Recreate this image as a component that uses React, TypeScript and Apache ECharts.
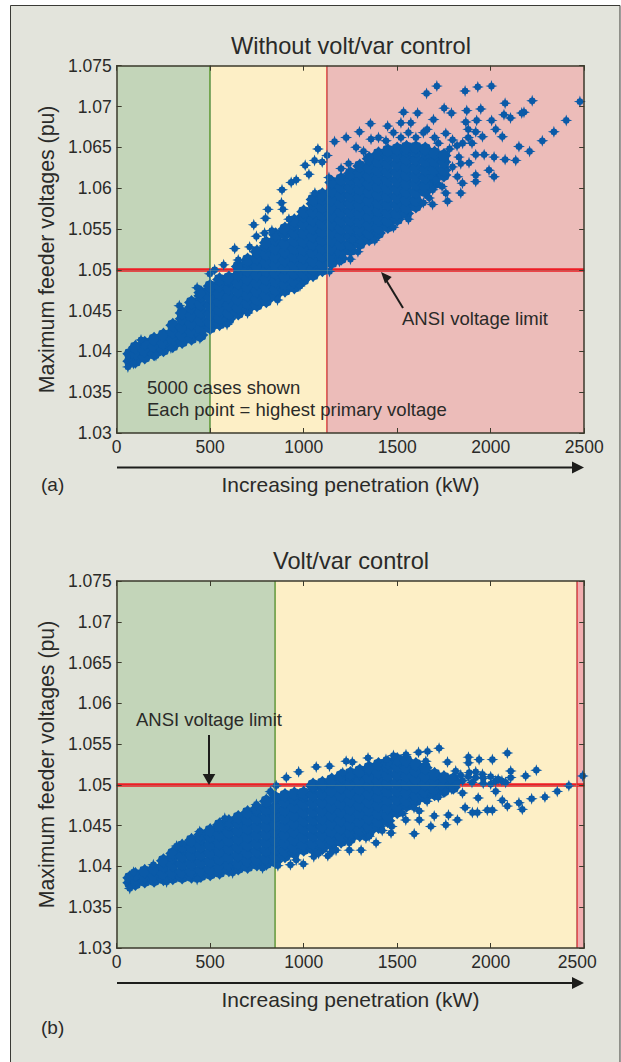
import React, { useEffect, useRef } from "react";
import * as echarts from "echarts";

const titles = ["Without volt/var control", "Volt/var control"];
const xName = "Increasing penetration (kW)";
const yName = "Maximum feeder voltages (pu)";
const limit = 1.05;
const zonesA = [0, 500, 1125, 2500];
const zonesB = [0, 845, 2460, 2500];

const cloudA: [number, number[]][] = [
  [70, [1.0388, 1.0397]],
  [100, [1.0388, 1.0397, 1.0405]],
  [150, [1.0393, 1.0401, 1.041]],
  [200, [1.0397, 1.0406, 1.0415]],
  [250, [1.0402, 1.041, 1.042]],
  [300, [1.0407, 1.0415, 1.0424, 1.0432]],
  [350, [1.0412, 1.042, 1.043, 1.044, 1.0447]],
  [400, [1.0416, 1.0424, 1.0434, 1.0444, 1.0454, 1.046]],
  [450, [1.042, 1.0428, 1.0438, 1.0448, 1.0458, 1.0468, 1.0472]],
  [500, [1.0429, 1.0436, 1.0446, 1.0456, 1.0466, 1.0476, 1.048]],
  [550, [1.0434, 1.0441, 1.0451, 1.0461, 1.0471, 1.0481, 1.0488]],
  [600, [1.044, 1.0447, 1.0457, 1.0467, 1.0477, 1.0487, 1.049]],
  [650, [1.0447, 1.0454, 1.0464, 1.0474, 1.0484, 1.0494, 1.0504]],
  [700, [1.0452, 1.0459, 1.0469, 1.0479, 1.0489, 1.0499, 1.0509, 1.0512]],
  [750, [1.0457, 1.0464, 1.0474, 1.0484, 1.0494, 1.0504, 1.0514, 1.0522]],
  [800, [1.0462, 1.0469, 1.0479, 1.0489, 1.0499, 1.0509, 1.0519, 1.0529, 1.0533]],
  [850, [1.0469, 1.0476, 1.0486, 1.0496, 1.0506, 1.0516, 1.0526, 1.0537, 1.0543]],
  [900, [1.0475, 1.0482, 1.0492, 1.0502, 1.0512, 1.0522, 1.0532, 1.0544, 1.055]],
  [950, [1.0479, 1.0486, 1.0496, 1.0506, 1.0516, 1.0526, 1.0536, 1.0546, 1.0556, 1.056]],
  [1000, [1.0488, 1.0495, 1.0505, 1.0515, 1.0525, 1.0535, 1.0545, 1.0556, 1.0566, 1.0571]],
  [1050, [1.0494, 1.0501, 1.0511, 1.0521, 1.0531, 1.0541, 1.0551, 1.0561, 1.0571, 1.0581, 1.0586]],
  [1100, [1.05, 1.0507, 1.0517, 1.0527, 1.0537, 1.0547, 1.0557, 1.0567, 1.0577, 1.0587, 1.0592]],
  [1150, [1.0509, 1.0516, 1.0526, 1.0536, 1.0546, 1.0556, 1.0566, 1.0576, 1.0586, 1.0596, 1.0607]],
  [1200, [1.0514, 1.0521, 1.0531, 1.0541, 1.0551, 1.0561, 1.0571, 1.0581, 1.0591, 1.0601, 1.0611]],
  [1250, [1.0524, 1.0531, 1.0541, 1.0551, 1.0561, 1.0571, 1.0581, 1.0591, 1.0601, 1.0611, 1.0618]],
  [1300, [1.0532, 1.0539, 1.0549, 1.0559, 1.0569, 1.0579, 1.0589, 1.0599, 1.0609, 1.0619, 1.0627]],
  [1350, [1.0538, 1.0545, 1.0555, 1.0565, 1.0575, 1.0585, 1.0595, 1.0605, 1.0615, 1.0625, 1.0636]],
  [1400, [1.0545, 1.0552, 1.0562, 1.0572, 1.0582, 1.0592, 1.0602, 1.0612, 1.0622, 1.0632, 1.0642]],
  [1450, [1.0553, 1.056, 1.057, 1.058, 1.059, 1.06, 1.061, 1.062, 1.063, 1.064, 1.0646]],
  [1500, [1.0562, 1.0569, 1.0579, 1.0589, 1.0599, 1.0609, 1.0619, 1.0629, 1.0639, 1.0648]],
  [1550, [1.0569, 1.0576, 1.0586, 1.0596, 1.0606, 1.0616, 1.0626, 1.0636, 1.0646, 1.065]],
  [1600, [1.0578, 1.0585, 1.0595, 1.0605, 1.0615, 1.0625, 1.0635, 1.0645, 1.065]],
  [1650, [1.0596, 1.0603, 1.0613, 1.0623, 1.0633, 1.0643, 1.0648]],
  [1700, [1.0606, 1.0613, 1.0623, 1.0633, 1.0643]],
  [1750, [1.0616, 1.0622, 1.0632, 1.064]],
];

const outliersA: [number, number][] = [
  [1712, 1.0725], [1657, 1.0716], [1863, 1.0719], [1931, 1.0724], [2004, 1.0725], [2077, 1.0704],
  [2222, 1.0707], [2477, 1.0706], [2178, 1.0693], [2166, 1.0692], [2404, 1.0683], [2338, 1.0669],
  [2276, 1.0658], [2208, 1.0645], [2151, 1.0651], [2134, 1.0634], [2077, 1.0635], [2018, 1.0638],
  [2106, 1.0686], [2071, 1.069], [1947, 1.0697], [1872, 1.0695], [1790, 1.0692], [1751, 1.0698],
  [2005, 1.0683], [1925, 1.0683], [1867, 1.0681], [1694, 1.0684], [1609, 1.0692], [1534, 1.0693],
  [1520, 1.068], [1357, 1.0679], [1449, 1.0676], [1573, 1.068], [2062, 1.0663], [2027, 1.0672],
  [1956, 1.0663], [1920, 1.0669], [1227, 1.0662], [1165, 1.0657], [1298, 1.0669], [1280, 1.065],
  [1076, 1.0648], [1125, 1.064], [1058, 1.0634], [1099, 1.0632], [1008, 1.0628], [1028, 1.0617],
  [960, 1.061], [933, 1.0607], [884, 1.0598], [881, 1.0582], [809, 1.0574], [796, 1.0563],
  [733, 1.0555], [889, 1.0574], [921, 1.0562], [791, 1.0545], [747, 1.0541], [631, 1.0526],
  [711, 1.0528], [572, 1.0506], [524, 1.05], [498, 1.0495], [1200, 1.0624], [2018, 1.0614],
  [1991, 1.0622], [1920, 1.0616], [1920, 1.0608], [1840, 1.0594], [1849, 1.0606], [1822, 1.0614],
  [1769, 1.0584], [1760, 1.0594], [1689, 1.058], [1671, 1.0588], [1965, 1.0641], [1920, 1.0641],
  [1884, 1.0631], [1840, 1.063], [1796, 1.0626], [1796, 1.0659], [1760, 1.0667], [1850, 1.0655],
  [1880, 1.0662], [1400, 1.0662], [1480, 1.0668], [1560, 1.0668], [1640, 1.0668], [1700, 1.0662],
  [1360, 1.066], [1138, 1.0498], [1191, 1.051], [1262, 1.0537], [1707, 1.061], [1740, 1.0602],
  [1880, 1.0672], [1900, 1.0655], [1820, 1.0652], [1780, 1.0648], [1830, 1.0638], [1720, 1.0655],
  [1660, 1.0672], [1600, 1.0662], [1520, 1.0662], [1440, 1.0658], [1320, 1.0645], [1240, 1.063],
  [1690, 1.0598], [1640, 1.0582], [1560, 1.0562], [1480, 1.0552], [1380, 1.0536], [1290, 1.0522],
  [1250, 1.0513], [980, 1.048], [860, 1.0463], [700, 1.0447], [590, 1.0433], [445, 1.0416],
  [290, 1.0404], [210, 1.0395], [60, 1.0381], [90, 1.0385], [130, 1.0414], [335, 1.0456],
  [430, 1.0478], [650, 1.0512], [830, 1.0548], [1060, 1.0594], [1135, 1.0613],
];

const cloudB: [number, number[]][] = [
  [70, [1.038, 1.0386]],
  [100, [1.0379, 1.0385, 1.039]],
  [150, [1.0382, 1.0388, 1.0394]],
  [200, [1.0383, 1.0389, 1.0397]],
  [250, [1.0385, 1.0391, 1.0401, 1.0407]],
  [300, [1.0386, 1.0392, 1.0402, 1.0412, 1.0416]],
  [350, [1.0387, 1.0393, 1.0403, 1.0413, 1.0423, 1.0425]],
  [400, [1.0388, 1.0394, 1.0404, 1.0414, 1.0424, 1.0432]],
  [450, [1.0389, 1.0395, 1.0405, 1.0415, 1.0425, 1.0435, 1.0439]],
  [500, [1.0391, 1.0397, 1.0407, 1.0417, 1.0427, 1.0437, 1.0444]],
  [550, [1.0393, 1.0399, 1.0409, 1.0419, 1.0429, 1.0439, 1.0449, 1.0451]],
  [600, [1.0396, 1.0402, 1.0412, 1.0422, 1.0432, 1.0442, 1.0452, 1.0455]],
  [650, [1.0398, 1.0404, 1.0414, 1.0424, 1.0434, 1.0444, 1.0454, 1.046]],
  [700, [1.04, 1.0407, 1.0417, 1.0427, 1.0437, 1.0447, 1.0457, 1.0466]],
  [750, [1.0403, 1.0409, 1.0419, 1.0429, 1.0439, 1.0449, 1.0459, 1.0469, 1.0471]],
  [800, [1.0404, 1.041, 1.042, 1.043, 1.044, 1.045, 1.046, 1.047, 1.048]],
  [850, [1.0406, 1.0412, 1.0422, 1.0432, 1.0442, 1.0452, 1.0462, 1.0472, 1.0484]],
  [900, [1.0413, 1.0419, 1.0429, 1.0439, 1.0449, 1.0459, 1.0469, 1.0479, 1.0487]],
  [950, [1.0417, 1.0423, 1.0433, 1.0443, 1.0453, 1.0463, 1.0473, 1.0483, 1.0489]],
  [1000, [1.0421, 1.0427, 1.0437, 1.0447, 1.0457, 1.0467, 1.0477, 1.0487, 1.049]],
  [1050, [1.0422, 1.0428, 1.0438, 1.0448, 1.0458, 1.0468, 1.0478, 1.0488, 1.0498, 1.05]],
  [1100, [1.0423, 1.0429, 1.0439, 1.0449, 1.0459, 1.0469, 1.0479, 1.0489, 1.0499, 1.0502]],
  [1150, [1.0427, 1.0433, 1.0443, 1.0453, 1.0463, 1.0473, 1.0483, 1.0493, 1.0503, 1.0506]],
  [1200, [1.0431, 1.0437, 1.0447, 1.0457, 1.0467, 1.0477, 1.0487, 1.0497, 1.0507, 1.0511]],
  [1250, [1.0435, 1.0441, 1.0451, 1.0461, 1.0471, 1.0481, 1.0491, 1.0501, 1.0511, 1.0514]],
  [1300, [1.0439, 1.0445, 1.0455, 1.0465, 1.0475, 1.0485, 1.0495, 1.0505, 1.0515, 1.0517]],
  [1350, [1.0443, 1.0449, 1.0459, 1.0469, 1.0479, 1.0489, 1.0499, 1.0509, 1.0519, 1.0521]],
  [1400, [1.0449, 1.0455, 1.0465, 1.0475, 1.0485, 1.0495, 1.0505, 1.0515, 1.0525]],
  [1450, [1.0456, 1.0462, 1.0472, 1.0482, 1.0492, 1.0502, 1.0512, 1.0522, 1.0527]],
  [1500, [1.0467, 1.0473, 1.0483, 1.0493, 1.0503, 1.0513, 1.0523, 1.0531]],
  [1550, [1.0475, 1.0481, 1.0491, 1.0501, 1.0511, 1.0521, 1.053]],
  [1600, [1.0481, 1.0487, 1.0497, 1.0507, 1.0517, 1.0525]],
  [1650, [1.0485, 1.0491, 1.0501, 1.0511, 1.0521]],
  [1700, [1.0489, 1.0495, 1.0505, 1.0513]],
  [1750, [1.0493, 1.0499, 1.0509]],
  [1800, [1.0497, 1.0503, 1.0507]],
];

const outliersB: [number, number][] = [
  [1724, 1.0545], [1662, 1.0541], [1614, 1.054], [2089, 1.0539], [1881, 1.0534], [1881, 1.0527],
  [1938, 1.0531], [2009, 1.0531], [1769, 1.0528], [1653, 1.0529], [1344, 1.0533], [1260, 1.0528],
  [1227, 1.0529], [1138, 1.0523], [1067, 1.0522], [973, 1.0516], [907, 1.0509], [853, 1.0499],
  [822, 1.0492], [2244, 1.0518], [2187, 1.0511], [2107, 1.0517], [2107, 1.0509], [2027, 1.0505],
  [1956, 1.0513], [1885, 1.0515], [1813, 1.0517], [1920, 1.0509], [2418, 1.0499], [2356, 1.0492],
  [2290, 1.0485], [2219, 1.0483], [2169, 1.047], [2151, 1.0478], [2089, 1.0474], [2062, 1.0481],
  [2027, 1.0492], [1933, 1.0484], [2009, 1.0469], [1982, 1.0469], [1929, 1.0466], [1902, 1.0466],
  [1863, 1.0472], [1849, 1.049], [1822, 1.0457], [1774, 1.0463], [1760, 1.0451], [1698, 1.0462],
  [1680, 1.0449], [1618, 1.0468], [1618, 1.0457], [1591, 1.044], [1546, 1.0457], [1471, 1.0449],
  [1467, 1.0441], [1387, 1.0429], [1307, 1.042], [1244, 1.042], [1244, 1.0429], [1333, 1.0435],
  [1173, 1.042], [1129, 1.0413], [1054, 1.0412], [998, 1.0403], [929, 1.0402], [862, 1.0401],
  [2492, 1.0511], [1850, 1.0505], [1900, 1.0503], [1960, 1.0502], [2000, 1.0501],
  [1840, 1.0512], [1880, 1.051], [1920, 1.0516], [1960, 1.0508], [2000, 1.051], [2040, 1.0507],
  [2060, 1.0505], [2080, 1.0503], [1820, 1.0502], [1790, 1.0495], [1760, 1.0492], [1720, 1.0485],
  [1660, 1.048], [1590, 1.0472], [1530, 1.0465], [1420, 1.0444], [1350, 1.0437], [1150, 1.0418],
  [1080, 1.0416], [960, 1.0408], [780, 1.0398], [620, 1.0392], [430, 1.0384], [267, 1.0381],
  [70, 1.0373], [90, 1.0393], [196, 1.0402], [320, 1.0425], [444, 1.0443], [578, 1.0459],
  [747, 1.0476], [827, 1.049], [1209, 1.0515], [1440, 1.0531], [1547, 1.0537], [1480, 1.0536],
];

const flatten = (cols: [number, number[]][]) => cols.flatMap(([kw, ys]) => ys.map((y) => [kw, y]));

const star = "path://M50 0 L58 24 L72 28 L76 42 L100 50 L76 58 L72 72 L58 76 L50 100 L42 76 L28 72 L24 58 L0 50 L24 42 L28 28 L42 24 Z";
const fatStar = "path://M50 0 L62 14 L80 20 L86 38 L100 50 L86 62 L80 80 L62 86 L50 100 L38 86 L20 80 L14 62 L0 50 L14 38 L20 20 L38 14 Z";
const BLUE = "#0a5aa8";
const INK = "#2a2a28";
const FONT = "Liberation Sans";

const arrow = (pts: number[][], shaft: number[]) => [
  { type: "line", z: 100, shape: { x1: shaft[0], y1: shaft[1], x2: shaft[2], y2: shaft[3] }, style: { stroke: "#1d1d1b", lineWidth: 2 } },
  { type: "polygon", z: 100, shape: { points: pts }, style: { fill: "#1d1d1b" } },
];
const label = (text: string, x: number, y: number, fontSize: number) => ({
  type: "text", z: 100, x, y,
  style: { text, fontSize, fontFamily: FONT, fill: INK, textVerticalAlign: "middle" },
});

function panelSeries(i: number, zones: number[], cloud: number[][], outliers: number[][]) {
  const colors = ["#c3d5b9", "#fdefc6", i === 0 ? "#ecbcb9" : "#f2aeb0"];
  const lineColors = ["#5f9a34", "#e23b3f"];
  const base = { type: "scatter", xAxisIndex: i * 2, yAxisIndex: i * 2, silent: true };
  return [
    {
      ...base, z: 1, data: [],
      markArea: {
        silent: true, z: 1,
        data: colors.map((c, k) => [{ xAxis: zones[k], itemStyle: { color: c, opacity: 1 } }, { xAxis: zones[k + 1] }]),
      },
      markLine: {
        silent: true, z: 2, symbol: "none", label: { show: false },
        data: [
          { xAxis: zones[1], lineStyle: { color: lineColors[0], width: 1.6, type: "solid" } },
          { xAxis: zones[2], lineStyle: { color: lineColors[1], width: 1.6, type: "solid" } },
          { yAxis: limit, lineStyle: { color: "#ee1c25", width: 3.5, type: "solid" } },
        ],
      },
    },
    { ...base, z: 3, clip: false, symbol: fatStar, symbolSize: 15, itemStyle: { color: BLUE, opacity: 1 }, data: cloud },
    { ...base, z: 3, clip: false, symbol: star, symbolSize: 12, itemStyle: { color: BLUE, opacity: 1 }, data: outliers },
    {
      ...base, z: 4, data: [],
      markLine: {
        silent: true, z: 4, symbol: "none", label: { show: false },
        lineStyle: { color: "#8fa98f", width: 1, opacity: 0.35, type: "solid" },
        data: [{ xAxis: zones[1] }, { xAxis: zones[2] }, { yAxis: limit }],
      },
    },
  ];
}

export default function App() {
  const ref = useRef<HTMLDivElement>(null);
  useEffect(() => {
    const chart = echarts.init(ref.current!, undefined, { renderer: "svg" });
    const tickText = { color: INK, fontFamily: FONT, fontSize: 17.5 };
    const lineStyle = { color: "#3b3a2c", width: 1.5 };
    const grids = [
      { left: 116.7, top: 65.7, width: 467.5, height: 367.3 },
      { left: 116.7, top: 581, width: 467.5, height: 367 },
    ];
    const xAxes: any[] = [];
    const yAxes: any[] = [];
    grids.forEach((_, g) => {
      const xCommon = { gridIndex: g, type: "value", min: 0, max: 2500, interval: 500, z: 5, splitLine: { show: false }, axisLine: { lineStyle, onZero: false }, axisTick: { inside: true, length: 5, lineStyle: { color: "#3b3a2c", width: 1 } } };
      const yCommon = { gridIndex: g, type: "value", min: 1.03, max: 1.075, interval: 0.005, z: 5, splitLine: { show: false }, axisLine: { lineStyle, onZero: false }, axisTick: { inside: true, length: 5, lineStyle: { color: "#3b3a2c", width: 1 } } };
      xAxes.push({
        ...xCommon, position: "bottom", name: xName, nameLocation: "middle", nameGap: 41,
        nameTextStyle: { color: INK, fontFamily: FONT, fontSize: 21 },
        axisLabel: {
          ...tickText, margin: 5,
          rich: { s: { ...tickText, padding: [0, 14, 0, 0] } },
          formatter: (v: number) => (g === 1 && v === 2500 ? `{s|${v}}` : String(v)),
        },
      });
      xAxes.push({ ...xCommon, position: "top", axisLabel: { show: false } });
      yAxes.push({ ...yCommon, position: "left", name: yName, nameLocation: "middle", nameGap: 57, nameTextStyle: { color: INK, fontFamily: FONT, fontSize: 21.3 }, axisLabel: { ...tickText, margin: 5, formatter: (v: number) => String(+v.toFixed(3)) } });
      yAxes.push({ ...yCommon, position: "right", axisLabel: { show: false } });
    });
    chart.setOption({
      animation: false,
      title: [
        { text: titles[0], left: 346, top: 29, textAlign: "center", textStyle: { color: INK, fontFamily: FONT, fontSize: 23.6, fontWeight: "normal" } },
        { text: titles[1], left: 346, top: 544, textAlign: "center", textStyle: { color: INK, fontFamily: FONT, fontSize: 23.6, fontWeight: "normal" } },
      ],
      grid: grids,
      xAxis: xAxes,
      yAxis: yAxes,
      series: [
        ...panelSeries(0, zonesA, flatten(cloudA), outliersA),
        ...panelSeries(1, zonesB, flatten(cloudB), outliersB),
      ],
      graphic: [
        { type: "rect", z: -1, shape: { x: 10.5, y: 5.5, width: 609.5, height: 1060 }, style: { fill: "#e3e4dc", stroke: "#3a3a36", lineWidth: 1 } },
        label("5000 cases shown", 147, 387, 18.5),
        label("Each point = highest primary voltage", 147, 409, 18.5),
        label("ANSI voltage limit", 402, 318, 18.5),
        label("ANSI voltage limit", 136, 719, 18.5),
        label("(a)", 41, 484, 19),
        label("(b)", 41, 1027, 19),
        ...arrow([[381, 272], [391.7, 277], [385, 283.5]], [403, 308, 386, 280]),
        ...arrow([[209, 785], [202.7, 774], [215.3, 774]], [209, 735, 209, 776]),
        ...arrow([[584, 467.5], [572, 461.5], [572, 473.5]], [117, 467.5, 574, 467.5]),
        ...arrow([[584, 983], [572, 977], [572, 989]], [117, 983, 574, 983]),
      ],
    });
    return () => chart.dispose();
  }, []);
  return <div ref={ref} style={{ position: "absolute", left: 0, top: 0, width: 621, height: 1062 }} />;
}
